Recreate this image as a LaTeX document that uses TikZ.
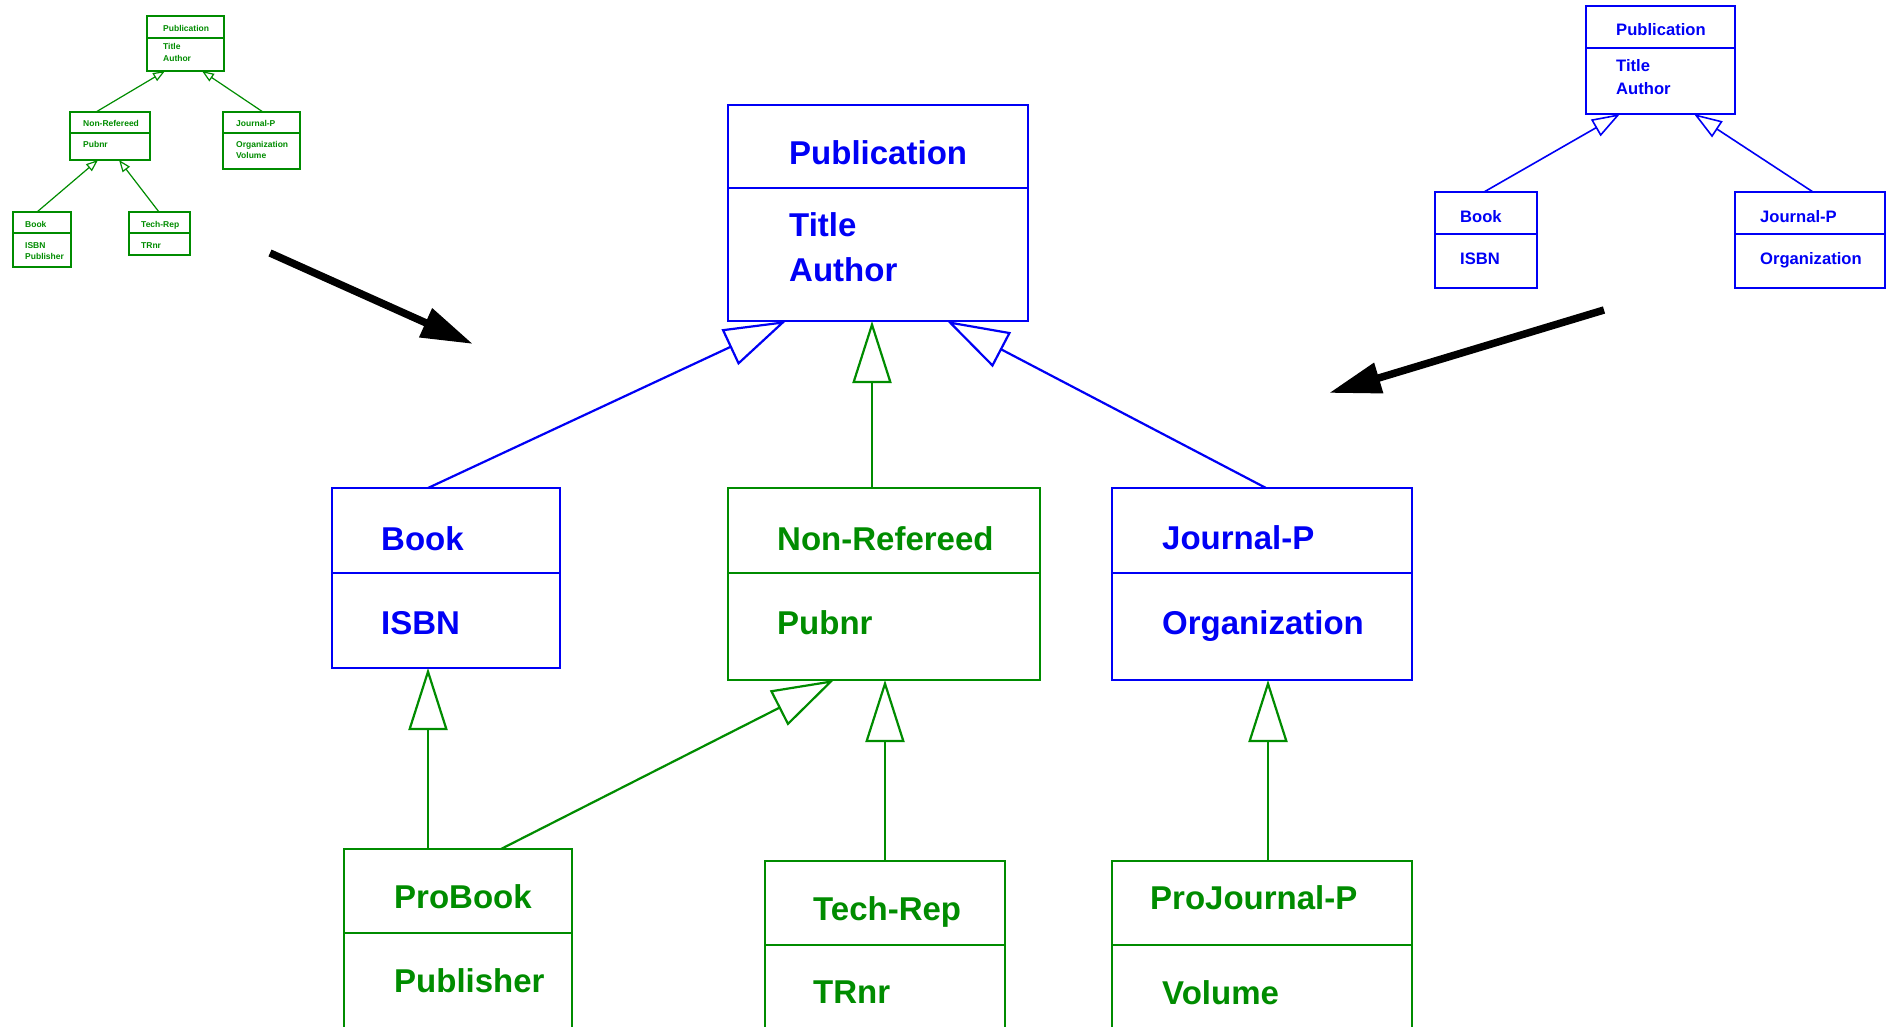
\documentclass[tikz,border=0pt]{standalone}
\usepackage{fontspec}
\setmainfont{Liberation Sans}
\usetikzlibrary{arrows.meta}
\definecolor{ublue}{RGB}{0,0,245}
\definecolor{ugreen}{RGB}{0,140,0}
\newcommand{\umlbox}[8]{% name, style, x1, y1, x2, y2, ydiv, color
  \node[#2, draw=#8, minimum width={#5-#3}, minimum height={#6-#4}] (#1) at (#3,#4) {};
  \draw[#2, draw=#8] (#1.west |- 0,#7) -- (#1.east |- 0,#7);
}
\begin{document}
\begin{tikzpicture}[x=1pt,y=-1pt,
  boxbase/.style={inner sep=0pt, outer sep=0pt, anchor=north west},
  bigbox/.style={boxbase, line width=2.2pt},
  midbox/.style={boxbase, line width=1.6pt},
  smallbox/.style={boxbase, line width=1.2pt},
  bigtxt/.style={font=\bfseries\fontsize{33}{40}\selectfont, inner sep=0pt, anchor=base west},
  midtxt/.style={font=\bfseries\fontsize{16.6}{20}\selectfont, inner sep=0pt, anchor=base west},
  smalltxt/.style={font=\bfseries\fontsize{8.5}{10}\selectfont, inner sep=0pt, anchor=base west},
  biggen/.style={line width=2.2pt, -{Triangle[open, length=62pt, width=39pt]}},
  midgen/.style={line width=1.6pt, -{Triangle[open, length=28pt, width=19pt]}},
  smallgen/.style={line width=1.2pt, -{Triangle[open, length=12pt, width=9pt]}},
  bigarrow/.style={line width=7.5pt, -{Triangle[length=52pt, width=30pt]}}
]
\useasboundingbox (0,0) rectangle (1891,1027);
\clip (0,0) rectangle (1891,1027);
\fill[white] (0,0) rectangle (1891,1027);

% ---------- main diagram ----------
\umlbox{pub}{bigbox}{728}{105}{1028}{321}{188}{ublue}
\node[bigtxt, ublue] (pubt) at (789,165) {Publication};
\node[bigtxt, ublue] (pubt1) at (789,237) {Title};
\node[bigtxt, ublue] (pubt2) at (789,282) {Author};

\umlbox{book}{bigbox}{332}{488}{560}{668}{573}{ublue}
\node[bigtxt, ublue] (bookt) at (381,550) {Book};
\node[bigtxt, ublue] (bookt1) at (381,634) {ISBN};

\umlbox{nr}{bigbox}{728}{488}{1040}{680}{573}{ugreen}
\node[bigtxt, ugreen] (nrt) at (777,550) {Non-Refereed};
\node[bigtxt, ugreen] (nrt1) at (777,634) {Pubnr};

\umlbox{jp}{bigbox}{1112}{488}{1412}{680}{573}{ublue}
\node[bigtxt, ublue] (jpt) at (1162,549) {Journal-P};
\node[bigtxt, ublue] (jpt1) at (1162,634) {Organization};

\umlbox{probook}{bigbox}{344}{849}{572}{1045}{933}{ugreen}
\node[bigtxt, ugreen] (probookt) at (394,908) {ProBook};
\node[bigtxt, ugreen] (probookt1) at (394,992) {Publisher};

\umlbox{tech}{bigbox}{765}{861}{1005}{1045}{945}{ugreen}
\node[bigtxt, ugreen] (techt) at (813,920) {Tech-Rep};
\node[bigtxt, ugreen] (techt1) at (813,1003) {TRnr};

\umlbox{projp}{bigbox}{1112}{861}{1412}{1045}{945}{ugreen}
\node[bigtxt, ugreen] (projpt) at (1150,909) {ProJournal-P};
\node[bigtxt, ugreen] (projpt1) at (1162,1004) {Volume};

\draw[biggen, ublue] ([xshift=96pt]book.north west) -- ([xshift=58pt]pub.south west);
\draw[biggen, ugreen] ([xshift=144pt]nr.north west) -- ([xshift=144pt]pub.south west);
\draw[biggen, ublue] ([xshift=154pt]jp.north west) -- ([xshift=219pt]pub.south west);
\draw[biggen, ugreen] ([xshift=84pt]probook.north west) -- ([xshift=96pt]book.south west);
\draw[biggen, ugreen] ([xshift=157pt]probook.north west) -- ([xshift=106pt]nr.south west);
\draw[biggen, ugreen] ([xshift=120pt]tech.north west) -- ([xshift=157pt]nr.south west);
\draw[biggen, ugreen] ([xshift=156pt]projp.north west) -- ([xshift=156pt]jp.south west);

% ---------- small green diagram ----------
\umlbox{spub}{smallbox}{147}{16}{224}{71}{38}{ugreen}
\node[smalltxt, ugreen] (spubt) at (163,32) {Publication};
\node[smalltxt, ugreen] (spubt1) at (163,50) {Title};
\node[smalltxt, ugreen] (spubt2) at (163,62) {Author};

\umlbox{snr}{smallbox}{70}{112}{150}{160}{133}{ugreen}
\node[smalltxt, ugreen] (snrt) at (83,127) {Non-Refereed};
\node[smalltxt, ugreen] (snrt1) at (83,148) {Pubnr};

\umlbox{sjp}{smallbox}{223}{112}{300}{169}{133}{ugreen}
\node[smalltxt, ugreen] (sjpt) at (236,127) {Journal-P};
\node[smalltxt, ugreen] (sjpt1) at (236,148) {Organization};
\node[smalltxt, ugreen] (sjpt2) at (236,159) {Volume};

\umlbox{sbook}{smallbox}{13}{212}{71}{267}{233}{ugreen}
\node[smalltxt, ugreen] (sbookt) at (25,228) {Book};
\node[smalltxt, ugreen] (sbookt1) at (25,249) {ISBN};
\node[smalltxt, ugreen] (sbookt2) at (25,260) {Publisher};

\umlbox{stech}{smallbox}{129}{212}{190}{255}{233}{ugreen}
\node[smalltxt, ugreen] (stecht) at (141,228) {Tech-Rep};
\node[smalltxt, ugreen] (stecht1) at (141,249) {TRnr};

\draw[smallgen, ugreen] ([xshift=26pt]snr.north west) -- ([xshift=18pt]spub.south west);
\draw[smallgen, ugreen] ([xshift=40pt]sjp.north west) -- ([xshift=55pt]spub.south west);
\draw[smallgen, ugreen] ([xshift=24pt]sbook.north west) -- ([xshift=28pt]snr.south west);
\draw[smallgen, ugreen] ([xshift=30pt]stech.north west) -- ([xshift=49pt]snr.south west);

% ---------- small blue diagram ----------
\umlbox{tpub}{midbox}{1586}{6}{1735}{114}{48}{ublue}
\node[midtxt, ublue] (tpubt) at (1616,36) {Publication};
\node[midtxt, ublue] (tpubt1) at (1616,72) {Title};
\node[midtxt, ublue] (tpubt2) at (1616,95) {Author};

\umlbox{tbook}{midbox}{1435}{192}{1537}{288}{234}{ublue}
\node[midtxt, ublue] (tbookt) at (1460,223) {Book};
\node[midtxt, ublue] (tbookt1) at (1460,265) {ISBN};

\umlbox{tjp}{midbox}{1735}{192}{1885}{288}{234}{ublue}
\node[midtxt, ublue] (tjpt) at (1760,223) {Journal-P};
\node[midtxt, ublue] (tjpt1) at (1760,265) {Organization};

\draw[midgen, ublue] ([xshift=49pt]tbook.north west) -- ([xshift=34pt]tpub.south west);
\draw[midgen, ublue] ([xshift=78pt]tjp.north west) -- ([xshift=108pt]tpub.south west);

% ---------- black arrows ----------
\coordinate (a1s) at (270,253);
\coordinate (a1e) at (473,344);
\coordinate (a2s) at (1604,310);
\coordinate (a2e) at (1329,393);
\draw[bigarrow, black] (a1s) -- (a1e);
\draw[bigarrow, black] (a2s) -- (a2e);
\end{tikzpicture}
\end{document}
